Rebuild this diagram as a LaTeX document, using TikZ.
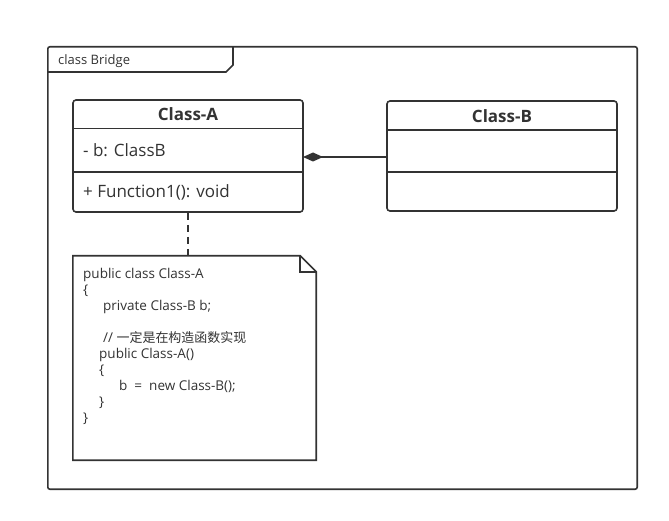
\documentclass[tikz,border=0pt]{standalone}
\usepackage{fontspec}
\setmainfont{Open Sans}
\newfontfamily\cjk[Scale=0.96]{Noto Sans CJK SC}
\usetikzlibrary{arrows.meta}
\definecolor{ink}{HTML}{333333}
\tikzset{
  umlline/.style={draw=ink, line width=1.6pt},
  classbox/.style={umlline, rounded corners=3pt, minimum width=230pt, inner sep=0pt, fill=white},
  titletext/.style={font=\fontsize{17}{20}\selectfont\bfseries, text=ink, anchor=base},
  membertext/.style={font=\fontsize{17}{20}\selectfont, text=ink, anchor=base west, inner sep=0pt},
  codetext/.style={font=\fontsize{13.5}{16}\selectfont, text=ink, anchor=base west, inner sep=0pt},
}
\begin{document}
\begin{tikzpicture}[x=1pt,y=-1pt]
\useasboundingbox (0,0) rectangle (669,521);
\fill[white] (0,0) rectangle (669,521);

% package frame with its name tab
\node[minimum width=589pt, minimum height=442pt, inner sep=0pt] (frame) at (342.5,268) {};
\draw[umlline, rounded corners=2pt] (frame.north west) rectangle (frame.south east);
\draw[umlline] (233,47) -- (233,65) -- (226,72) -- (48,72);
\node[font=\fontsize{13}{15}\selectfont, text=ink, anchor=base west, inner sep=0pt] (framename) at (58,65) {class Bridge};

% Class-A
\node[classbox, minimum height=112pt] (A) at (188,156) {};
\draw[umlline] ([yshift=-29.5pt]A.north west) -- ([yshift=-29.5pt]A.north east);
\draw[umlline] ([yshift=-73pt]A.north west) -- ([yshift=-73pt]A.north east);
\node[titletext] (Atitle) at (188,121) {Class-A};
\node[membertext] (Aattr) at (83,157) {- b: ClassB};
\node[membertext] (Aop) at (83,198) {+ Function1(): void};

% Class-B
\node[classbox, minimum height=110pt] (B) at (502,156) {};
\draw[umlline] ([yshift=-30pt]B.north west) -- ([yshift=-30pt]B.north east);
\draw[umlline] ([yshift=-72pt]B.north west) -- ([yshift=-72pt]B.north east);
\node[titletext] (Btitle) at (502,123) {Class-B};

% composition
\coordinate (Bleft) at (387,157);
\coordinate (Aright) at (303,157);
\draw[draw=ink, line width=1.6pt, -{Diamond[length=20pt,width=9pt,fill=ink]}] (Bleft) -- (Aright);

% note
\node[minimum width=243pt, minimum height=204pt, inner sep=0pt] (note) at (194.5,358) {};
\draw[umlline, line join=miter] (note.north west) -- ([xshift=-16pt]note.north east) -- ([yshift=-16pt]note.north east) -- (note.south east) -- (note.south west) -- cycle;
\draw[umlline] ([xshift=-16pt]note.north east) -- ([xshift=-16pt,yshift=-16pt]note.north east) -- ([yshift=-16pt]note.north east);
\draw[umlline, dash pattern=on 7pt off 5pt] (A.south) -- (note.north -| A.south);

\node[codetext] (c1) at (83,278.5) {public class Class-A};
\node[codetext] (c2) at (83,294.5) {\{};
\node[codetext] (c3) at (103,310.5) {private Class-B b;};
\node[codetext] (c4) at (103,342.5) {// {\cjk 一定是在构造函数实现}};
\node[codetext] (c5) at (99,358.5) {public Class-A()};
\node[codetext] (c6) at (99,374.5) {\{};
\node[codetext] (c7) at (119,390.5) {b \ = \ new Class-B();};
\node[codetext] (c8) at (99,406.5) {\}};
\node[codetext] (c9) at (83,422.5) {\}};
\end{tikzpicture}
\end{document}
